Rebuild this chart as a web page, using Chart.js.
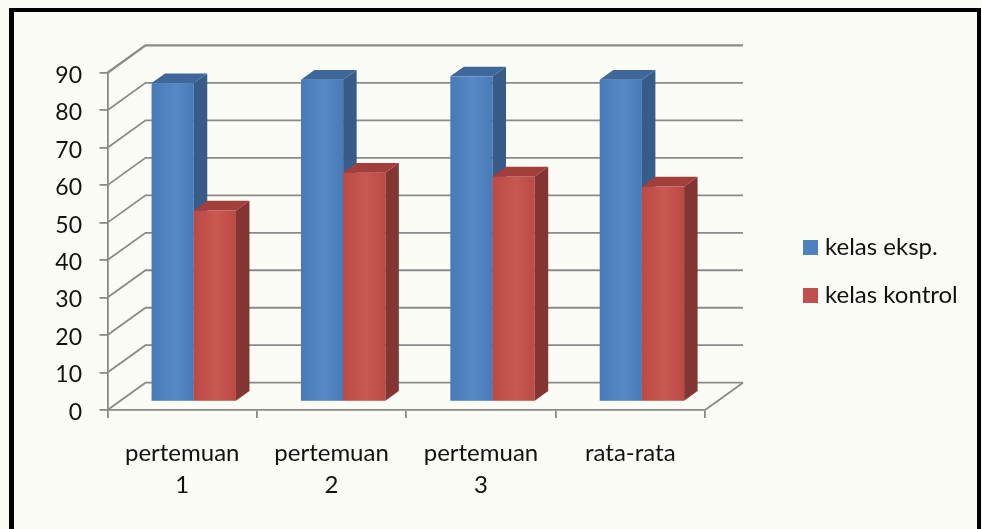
<!DOCTYPE html>
<html>
<head>
<meta charset="utf-8">
<script src="https://cdn.jsdelivr.net/npm/chart.js@4.4.1/dist/chart.umd.min.js"></script>
<style>
  html, body { margin: 0; padding: 0; background: #fcfcf7; }
  #wrap { position: relative; width: 982px; height: 529px; overflow: hidden; background: #fcfcf7; }
  #c { position: absolute; left: 0; top: 0; }
  #frame {
    position: absolute; left: 9px; top: 8px; width: 963px; height: 560px;
    border-left: 5px solid #000; border-top: 4px solid #000; border-right: 4px solid #000;
    pointer-events: none;
  }
</style>
</head>
<body>
<div id="wrap">
  <canvas id="c" width="982" height="529"></canvas>
  <div id="frame"></div>
</div>
<script>
// Categories and scores per class
const categories = [["pertemuan", "1"], ["pertemuan", "2"], ["pertemuan", "3"], "rata-rata"];
const seriesNames = ["kelas eksp.", "kelas kontrol"];
const kelasEksp = [85.0, 85.9, 86.8, 85.9];
const kelasKontrol = [51.0, 61.1, 60.1, 57.4];
const yMin = 0;
const yMax = 90;
const yStep = 10;

// Colours of the faces of each series
const palette = [
  { frontA: '#477ab7', frontB: '#5689c5', side: '#375c89', top: '#3e679b', key: '#4f81bd' },
  { frontA: '#bb4a47', frontB: '#c95850', side: '#843532', top: '#a33f3b', key: '#c0504d' }
];

// Oblique projection: full depth of the box, where the bars stand and how deep they are
const DEPTH_X = 38, DEPTH_Y = -27.3;
const BAR_OFF = 0.305;
const BAR_DEPTH = 0.355;
const GRID = '#8a8a8a';

const FONT = 'Lato, "Open Sans", sans-serif';

const threeD = {
  id: 'threeD',
  beforeDatasetsDraw(chart) {
    const ctx = chart.ctx;
    const y = chart.scales.y;
    const left = chart.chartArea.left;
    const right = chart.chartArea.right;
    const bottom = y.getPixelForValue(yMin);

    ctx.save();
    ctx.strokeStyle = GRID;
    ctx.lineCap = 'butt';
    // back wall horizontals and side wall diagonals
    for (let v = yMin; v <= yMax; v += yStep) {
      const py = y.getPixelForValue(v);
      ctx.lineWidth = v === yMax ? 2.4 : 1.8;
      ctx.beginPath();
      ctx.moveTo(left, py);
      ctx.lineTo(left + DEPTH_X, py + DEPTH_Y);
      ctx.lineTo(right + DEPTH_X, py + DEPTH_Y);
      ctx.stroke();
    }
    // floor right edge
    ctx.lineWidth = 1.8;
    ctx.beginPath();
    ctx.moveTo(right, bottom);
    ctx.lineTo(right + DEPTH_X, bottom + DEPTH_Y);
    ctx.stroke();

    // bars as boxes
    const ox = DEPTH_X * BAR_OFF, oy = DEPTH_Y * BAR_OFF;
    const bx = DEPTH_X * BAR_DEPTH, by = DEPTH_Y * BAR_DEPTH;
    const metas = chart.data.datasets.map((d, i) => chart.getDatasetMeta(i));
    const n = chart.data.labels.length;
    for (let i = 0; i < n; i++) {
      metas.forEach((meta, di) => {
        const el = meta.data[i];
        const p = el.getProps(['x', 'y', 'base', 'width'], true);
        const l = p.x - p.width / 2 + ox;
        const r = p.x + p.width / 2 + ox;
        const t = p.y + oy;
        const b = p.base + oy;
        const c = palette[di];

        // front
        const g = ctx.createLinearGradient(l, 0, r, 0);
        g.addColorStop(0, c.frontA);
        g.addColorStop(0.55, c.frontB);
        g.addColorStop(1, c.frontA);
        ctx.fillStyle = g;
        ctx.fillRect(l, t, r - l, b - t);

        // side
        ctx.fillStyle = c.side;
        ctx.beginPath();
        ctx.moveTo(r, t);
        ctx.lineTo(r + bx, t + by);
        ctx.lineTo(r + bx, b + by);
        ctx.lineTo(r, b);
        ctx.closePath();
        ctx.fill();

        // top
        ctx.fillStyle = c.top;
        ctx.beginPath();
        ctx.moveTo(l, t);
        ctx.lineTo(l + bx, t + by);
        ctx.lineTo(r + bx, t + by);
        ctx.lineTo(r, t);
        ctx.closePath();
        ctx.fill();
      });
    }
    ctx.restore();
    return false;
  },
  afterDraw(chart) {
    // legend on the right
    const ctx = chart.ctx;
    ctx.save();
    ctx.font = '24px ' + FONT;
    ctx.textBaseline = 'middle';
    ctx.textAlign = 'left';
    const rows = [247.5, 295.5];
    chart.data.datasets.forEach((d, i) => {
      ctx.fillStyle = palette[i].key;
      ctx.fillRect(803, rows[i] - 7.5, 15, 15);
      ctx.fillStyle = '#111';
      ctx.fillText(d.label, 825, rows[i]);
    });
    ctx.restore();
  }
};

new Chart(document.getElementById('c'), {
  type: 'bar',
  data: {
    labels: categories,
    datasets: [
      { label: seriesNames[0], data: kelasEksp, backgroundColor: palette[0].key },
      { label: seriesNames[1], data: kelasKontrol, backgroundColor: palette[1].key }
    ]
  },
  options: {
    responsive: false,
    devicePixelRatio: 1,
    animation: false,
    categoryPercentage: 0.565,
    barPercentage: 1.0,
    layout: { padding: { left: 0, top: 72.7, right: 277, bottom: 0 } },
    plugins: {
      legend: { display: false },
      tooltip: { enabled: false }
    },
    scales: {
      x: {
        type: 'category',
        grid: { offset: true, drawOnChartArea: false, drawTicks: true, tickLength: 8, color: GRID, lineWidth: 1.8 },
        border: { color: GRID, width: 1.8 },
        ticks: { color: '#111', font: { family: FONT, size: 24, lineHeight: 1.34 }, padding: 19, maxRotation: 0, autoSkip: false },
        afterFit(s) { s.height = 119; }
      },
      y: {
        min: yMin, max: yMax,
        grid: { drawOnChartArea: false, drawTicks: true, tickLength: 8, color: GRID, lineWidth: 1.8 },
        border: { color: GRID, width: 1.8 },
        ticks: { stepSize: yStep, color: '#111', font: { family: FONT, size: 23 }, padding: 17.5, labelOffset: 2.5 },
        afterFit(s) { s.width = 107.5; }
      }
    }
  },
  plugins: [threeD]
});
</script>
</body>
</html>
